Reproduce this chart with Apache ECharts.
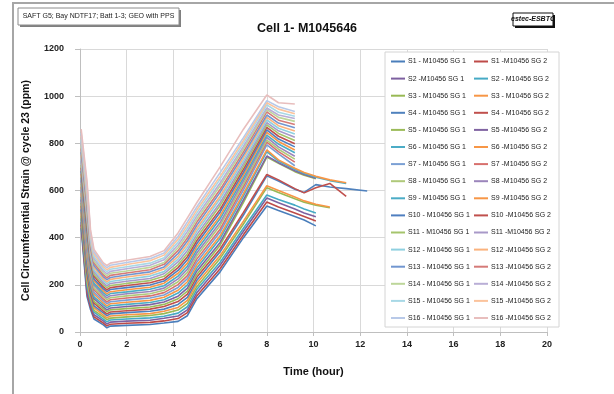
<!DOCTYPE html>
<html><head><meta charset="utf-8">
<script src="https://cdn.jsdelivr.net/npm/echarts@6/dist/echarts.min.js"></script>
<style>html,body{margin:0;padding:0;background:#fff}#c{width:614px;height:394px}</style>
</head><body><div id="c"></div>
<script>
// time points (hours)
const T = [0.05,0.3,0.45,0.6,1.0,1.15,1.3,2,3,3.6,4.2,4.6,5,6,7,8,8.5,9.2,9.6,10.1,10.7,11.4,12.3];
const xTicks = [0,2,4,6,8,10,12,14,16,18,20];
const yTicks = [0,200,400,600,800,1000,1200];

const S1_SG1 = [440,150,95,55,30,18,25,28,32,38,45,69,140,255,400,534,515,490,475,450];
const S1_SG2 = [455,166,106,64,38,26,33,37,41,47,57,82,153,268,412,551,530,505,490,471];
const S2_SG1 = [466,182,117,73,47,34,42,46,50,58,68,94,166,283,427,568,548,522,505,489];
const S2_SG2 = [482,197,128,84,55,43,51,55,60,67,80,107,180,296,440,581,562,538,522,505];
const S3_SG1 = [493,213,139,92,64,52,59,64,70,78,93,121,192,312,458,612,592,565,550,538,527];
const S3_SG2 = [508,229,150,103,72,60,68,73,78,88,104,134,206,324,470,620,600,572,556,542,530];
const S4_SG1 = [520,245,160,111,81,69,77,82,88,97,117,147,218,340,496,662,640,605,592,625,615,608,598];
const S4_SG2 = [536,261,171,122,89,77,85,90,97,108,129,161,232,352,507,668,645,608,590,612,630,575];
const S5_SG1 = [547,276,182,130,98,86,94,99,106,117,141,173,244,368,550,742,715,680,665,650];
const S5_SG2 = [562,292,193,141,106,94,102,108,116,127,152,186,258,380,560,746,718,684,668,652];
const S6_SG1 = [574,308,204,149,115,103,111,117,125,137,165,200,270,396,576,765,725,690,672,656,642,630];
const S6_SG2 = [589,324,215,160,123,111,120,126,134,147,177,213,283,408,587,772,730,694,676,660,645,633];
const S7_SG1 = [601,340,226,168,132,120,128,135,144,157,189,226,296,424,603,793,755,705];
const S7_SG2 = [616,355,237,179,140,128,137,144,153,167,201,239,309,436,616,805,765,720];
const S8_SG1 = [628,371,248,187,149,137,145,153,162,177,213,253,322,452,628,814,775,733];
const S8_SG2 = [643,387,259,198,157,145,154,162,172,186,225,266,335,464,641,825,785,745];
const S9_SG1 = [655,403,269,206,166,154,163,170,181,196,237,279,348,480,653,835,797,760];
const S9_SG2 = [670,419,280,217,174,162,171,179,190,207,249,292,361,492,665,846,808,772];
const S10_SG1 = [682,434,291,225,183,171,180,188,199,216,261,306,374,508,677,857,818,785];
const S10_SG2 = [697,450,302,236,191,179,188,197,209,225,273,319,387,520,690,868,830,798];
const S11_SG1 = [709,466,313,244,200,188,197,206,218,236,285,332,400,536,702,878,842,812];
const S11_SG2 = [724,482,324,255,208,196,206,215,227,247,297,346,413,548,714,888,853,826];
const S12_SG1 = [736,498,335,263,217,205,214,224,237,256,309,359,426,564,726,899,864,840];
const S12_SG2 = [751,513,346,274,225,213,223,233,246,267,321,372,439,576,739,910,875,852];
const S13_SG1 = [763,529,357,282,234,222,231,242,255,276,333,386,452,592,751,920,886,866];
const S13_SG2 = [778,545,368,293,242,230,240,250,264,287,345,399,465,604,764,933,898,880];
const S14_SG1 = [790,561,378,301,251,239,249,259,274,295,357,413,478,620,776,943,910,893];
const S14_SG2 = [805,577,389,312,259,247,257,268,283,306,369,426,491,632,787,950,920,905];
const S15_SG1 = [817,592,400,320,268,256,266,277,292,315,381,440,504,648,800,963,932,915];
const S15_SG2 = [832,608,411,331,276,264,274,286,302,326,393,453,517,660,812,972,945,925];
const S16_SG1 = [844,624,422,339,285,273,283,295,311,335,405,467,530,676,824,981,955,935];
const S16_SG2 = [860,640,433,350,293,282,292,304,320,345,420,484,548,700,860,1005,972,967];

const namesSG1 = ["S1 - M10456 SG 1","S2 -M10456 SG 1","S3 - M10456 SG 1","S4 - M10456 SG 1","S5 - M10456 SG 1","S6 - M10456 SG 1","S7 - M10456 SG 1","S8 - M10456 SG 1","S9 - M10456 SG 1","S10 - M10456 SG 1","S11 - M10456 SG 1","S12 - M10456 SG 1","S13 - M10456 SG 1","S14 - M10456 SG 1","S15 - M10456 SG 1","S16 - M10456 SG 1"];
const namesSG2 = ["S1 -M10456 SG 2","S2 - M10456 SG 2","S3 - M10456 SG 2","S4 - M10456 SG 2","S5 -M10456 SG 2","S6 -M10456 SG 2","S7 -M10456 SG 2","S8 -M10456 SG 2","S9 -M10456 SG 2","S10 -M10456 SG 2","S11 -M10456 SG 2","S12 -M10456 SG 2","S13 -M10456 SG 2","S14 -M10456 SG 2","S15 -M10456 SG 2","S16 -M10456 SG 2"];
const valsSG1 = [S1_SG1,S2_SG1,S3_SG1,S4_SG1,S5_SG1,S6_SG1,S7_SG1,S8_SG1,S9_SG1,S10_SG1,S11_SG1,S12_SG1,S13_SG1,S14_SG1,S15_SG1,S16_SG1];
const valsSG2 = [S1_SG2,S2_SG2,S3_SG2,S4_SG2,S5_SG2,S6_SG2,S7_SG2,S8_SG2,S9_SG2,S10_SG2,S11_SG2,S12_SG2,S13_SG2,S14_SG2,S15_SG2,S16_SG2];
const colSG1 = ["#4a7ebb","#7d60a0","#98b954","#4f81bd","#9bbb59","#4bacc6","#7ba0d4","#afc97a","#4bacc6","#4f7fc0","#a5c46c","#8fd0e0","#7196d0","#bdd69a","#a8d8e6","#b8c9e8"];
const colSG2 = ["#be4b48","#46aac5","#f79646","#c0504d","#8064a2","#f79646","#d7706d","#9b85bb","#f79646","#c0504d","#a899c8","#fab27d","#d57a78","#b9aed6","#fbc39c","#e8bebd"];

const FONT = "'Liberation Sans', Arial, sans-serif";
const series = [];
for (let i = 0; i < 16; i++) {
  [[namesSG1[i], valsSG1[i], colSG1[i]], [namesSG2[i], valsSG2[i], colSG2[i]]].forEach(([n, v, c]) => {
    series.push({
      name: n, type: 'line', showSymbol: false, symbol: 'none', z: 2,
      data: v.map((y, k) => [T[k], y]),
      lineStyle: { width: 1.6, color: c }, itemStyle: { color: c },
      emphasis: { disabled: true }, animation: false
    });
  });
}

const legendBase = {
  orient: 'vertical', top: 58, itemWidth: 14, itemHeight: 7, itemGap: 10.1,
  icon: 'path://M0,4 L14,4 L14,6 L0,6 Z', z: 6,
  textStyle: { fontFamily: FONT, fontSize: 7, color: '#222', padding: [0,0,0,-2] },
  selectedMode: false, padding: 0
};

const chart = echarts.init(document.getElementById('c'), null, { renderer: 'canvas' });
chart.setOption({
  backgroundColor: '#fff',
  animation: false,
  title: { text: 'Cell 1- M1045646', left: 302, top: 17, textAlign: 'center',
    textStyle: { fontFamily: FONT, fontSize: 12.5, fontWeight: 'bold', color: '#111' } },
  grid: { left: 80, right: 67, top: 49, bottom: 62 },
  xAxis: { type: 'value', min: 0, max: 20, interval: 2,
    name: 'Time (hour)', nameLocation: 'middle', nameGap: 34,
    nameTextStyle: { fontFamily: FONT, fontSize: 11, fontWeight: 'bold', color: '#111' },
    axisLine: { lineStyle: { color: '#bfbfbf' } },
    axisTick: { show: true, length: 4, lineStyle: { color: '#bfbfbf' } },
    axisLabel: { fontFamily: FONT, fontSize: 9, fontWeight: 'bold', color: '#222', margin: 8,
      formatter: v => xTicks.includes(v) ? String(v) : '' },
    splitLine: { show: true, lineStyle: { color: '#d9d9d9' } } },
  yAxis: { type: 'value', min: 0, max: 1200, interval: 200,
    name: 'Cell Circumferential Strain @ cycle 23 (ppm)', nameLocation: 'middle', nameGap: 48,
    nameTextStyle: { fontFamily: FONT, fontSize: 10.5, fontWeight: 'bold', color: '#111' },
    axisLine: { show: true, lineStyle: { color: '#bfbfbf' } },
    axisTick: { show: true, length: 5, lineStyle: { color: '#bfbfbf' } },
    axisLabel: { fontFamily: FONT, fontSize: 9, fontWeight: 'bold', color: '#222', margin: 16,
      formatter: v => yTicks.includes(v) ? String(v) : '' },
    splitLine: { show: true, lineStyle: { color: '#d9d9d9' } } },
  legend: [
    Object.assign({}, legendBase, { left: 391, data: namesSG1 }),
    Object.assign({}, legendBase, { left: 474, data: namesSG2 })
  ],
  graphic: [
    { type: 'rect', z: 10, silent: true, shape: { x: 13, y: 3, width: 640, height: 420 },
      style: { fill: 'none', stroke: '#a6a6a6', lineWidth: 2 } },
    { type: 'rect', z: 4, silent: true, shape: { x: 385, y: 52, width: 174, height: 275 },
      style: { fill: '#fff', stroke: '#d4d4d4', lineWidth: 1 } },
    { type: 'rect', z: 9, silent: true, shape: { x: 20, y: 10, width: 161, height: 17 },
      style: { fill: '#808080', stroke: 'none' } },
    { type: 'rect', z: 9, silent: true, shape: { x: 18, y: 8, width: 161, height: 17 },
      style: { fill: '#fff', stroke: '#8c8c8c', lineWidth: 1 } },
    { type: 'text', z: 10, silent: true, style: { x: 98.5, y: 16.5, text: 'SAFT G5; Bay NDTF17; Batt 1-3; GEO with PPS',
      font: "7px 'Liberation Sans', Arial", fill: '#222', textAlign: 'center', textVerticalAlign: 'middle' } },
    { type: 'rect', z: 9, silent: true, shape: { x: 515, y: 15, width: 40, height: 13 },
      style: { fill: '#111', stroke: 'none' } },
    { type: 'rect', z: 9, silent: true, shape: { x: 513, y: 13, width: 40, height: 13 },
      style: { fill: '#fff', stroke: '#111', lineWidth: 1 } },
    { type: 'text', z: 10, silent: true, style: { x: 533, y: 19.5, text: 'estec-ESBTC',
      font: "italic bold 7px 'Liberation Sans', Arial", fill: '#111', textAlign: 'center', textVerticalAlign: 'middle' } }
  ],
  series: series
});
</script>
</body></html>
